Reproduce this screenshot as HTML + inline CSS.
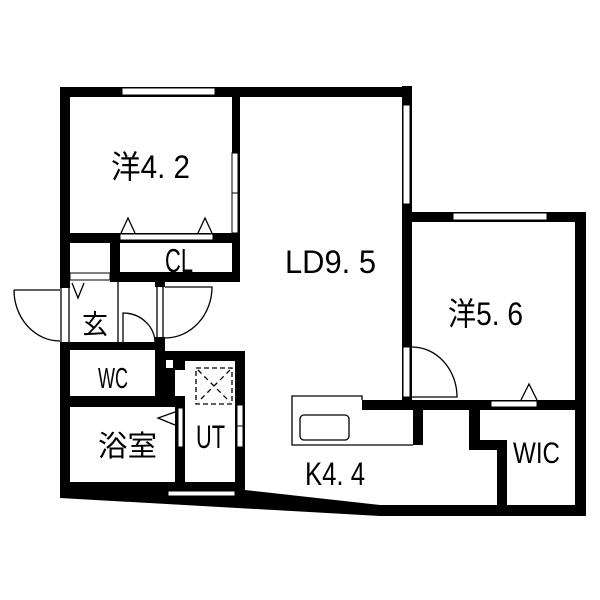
<!DOCTYPE html>
<html><head><meta charset="utf-8"><style>
html,body{margin:0;padding:0;background:#fff}
svg{display:block}
text{font-family:"Liberation Sans","Noto Sans CJK JP",sans-serif;fill:#000}
</style></head><body>
<svg width="600" height="600" viewBox="0 0 600 600" xmlns="http://www.w3.org/2000/svg">
<rect width="600" height="600" fill="#fff"/>
<g fill="#000">
<rect x="60" y="87" width="352" height="10"/>
<rect x="60" y="87" width="10" height="201"/>
<rect x="60" y="342" width="10" height="156"/>
<rect x="232" y="87" width="8" height="195"/>
<rect x="60" y="233" width="180" height="10"/>
<rect x="110" y="233" width="10" height="49"/>
<rect x="110" y="272" width="130" height="10"/>
<rect x="402" y="86" width="10" height="324"/>
<rect x="402" y="212" width="184" height="10"/>
<rect x="575" y="212" width="11" height="304"/>
<rect x="362" y="400" width="213" height="10"/>
<rect x="413" y="400" width="10" height="45"/>
<rect x="469" y="400" width="11" height="50"/>
<rect x="469" y="440" width="38" height="10"/>
<rect x="497" y="440" width="10" height="76"/>
<rect x="60" y="342" width="95" height="8"/>
<rect x="155" y="282" width="10" height="5"/>
<rect x="155" y="337" width="10" height="70"/>
<rect x="155" y="351" width="90" height="10"/>
<rect x="155" y="361" width="30" height="9"/>
<rect x="155" y="370" width="20" height="37"/>
<rect x="60" y="396" width="125" height="11"/>
<rect x="175" y="397" width="10" height="90"/>
<rect x="235" y="351" width="10" height="146"/>
<polygon points="60,482 245,482 245,490 380,505 586,505 586,516 380,516 60,498"/>
</g>
<g fill="#fff" stroke="#000" stroke-width="1">
<rect x="122" y="88" width="93" height="7"/>
<rect x="232" y="153" width="6" height="40"/>
<rect x="232" y="193" width="6" height="40"/>
<rect x="403" y="105" width="7" height="99"/>
<rect x="120" y="234" width="93" height="6"/>
<rect x="453" y="213" width="94" height="7"/>
<rect x="403" y="347" width="7" height="50"/>
<rect x="491" y="401" width="46" height="6"/>
<rect x="178" y="408" width="5" height="39"/>
<rect x="237" y="405" width="6" height="21"/>
<rect x="237" y="426" width="6" height="21"/>
<rect x="168" y="491" width="67" height="5"/>
<rect x="166" y="360" width="7" height="8" stroke="none"/>
<rect x="70" y="273" width="40" height="7"/>
</g>
<g fill="none" stroke="#000" stroke-width="1.3">
<line x1="61" y1="288" x2="61" y2="342"/>
<line x1="69" y1="288" x2="69" y2="342"/>
<path d="M14,290 L60,290 M14,290 A46,51 0 0 0 60,341"/>
<line x1="118" y1="282" x2="118" y2="342"/>
<path d="M123,343 L123,313 A32,30 0 0 1 155,343"/>
<line x1="157" y1="287" x2="157" y2="337"/>
<line x1="163" y1="287" x2="163" y2="337"/>
<path d="M165,287 L212,287 A47,51 0 0 1 165,338"/>
<path d="M412,347 A45,50 0 0 1 457,397 L412,397"/>
<path d="M121,233 L128,218 L135,233"/>
<path d="M198,233 L205,218 L212,233"/>
<path d="M72,283 L78,298 L84,283"/>
<path d="M175,412 L158,418 L175,425"/>
<path d="M521,400 L529,384 L537,400"/>
<path d="M362,400 L362,396 L292,396 L292,445 L413,445"/>
<rect x="300" y="415" width="49" height="25" rx="4"/>
<rect x="196" y="368" width="36" height="36" stroke-dasharray="5,3"/>
<path d="M198,370 L230,402 M230,370 L198,402" stroke-dasharray="5,4"/>
</g>
<g font-size="32">
<text x="111" y="178" textLength="79" lengthAdjust="spacingAndGlyphs">洋4. 2</text>
<text x="165" y="272" font-size="33" textLength="28" lengthAdjust="spacingAndGlyphs">CL</text>
<text x="285" y="273" textLength="91" lengthAdjust="spacingAndGlyphs">LD9. 5</text>
<text x="448" y="325" textLength="75" lengthAdjust="spacingAndGlyphs">洋5. 6</text>
<text x="82" y="334" font-size="27" textLength="26" lengthAdjust="spacingAndGlyphs">玄</text>
<text x="98" y="388" font-size="29" textLength="30" lengthAdjust="spacingAndGlyphs">WC</text>
<text x="98" y="456" font-size="29" textLength="59" lengthAdjust="spacingAndGlyphs">浴室</text>
<text x="196" y="448" textLength="29" lengthAdjust="spacingAndGlyphs">UT</text>
<text x="305" y="485" textLength="60" lengthAdjust="spacingAndGlyphs">K4. 4</text>
<text x="513" y="463" font-size="30" textLength="47" lengthAdjust="spacingAndGlyphs">WIC</text>
</g>
</svg>
</body></html>
